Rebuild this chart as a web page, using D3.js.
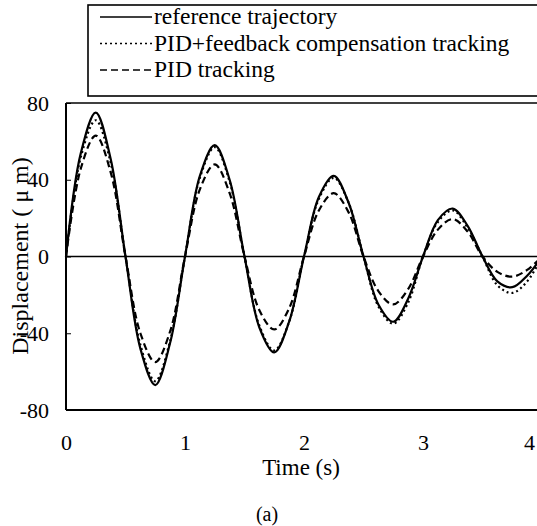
<!DOCTYPE html>
<html>
<head>
<meta charset="utf-8">
<script src="https://cdn.jsdelivr.net/npm/d3@7"></script>
<style>
  body { margin: 0; background: #fff; }
  svg { display: block; }
  text { font-family: "Liberation Serif", "Times New Roman", "DejaVu Serif", serif; fill: #000; }
</style>
</head>
<body>
<svg width="537" height="526"></svg>
<script>
// time samples (s), every 0.125 s
var times = [0, 0.125, 0.25, 0.375, 0.5, 0.625, 0.75, 0.875,
             1, 1.125, 1.25, 1.375, 1.5, 1.625, 1.75, 1.875,
             2, 2.125, 2.25, 2.375, 2.5, 2.625, 2.75, 2.875,
             3, 3.125, 3.25, 3.375, 3.5, 3.625, 3.75, 3.875, 4]

// displacement (um)
var refTraj = [0, 54, 75, 51, 0, -48, -67, -45,
               0, 42, 58, 40, 0, -37, -50, -34,
               0, 31, 42, 28, 0, -25, -34, -22,
               0, 19, 25, 16, 0, -13, -16, -10, 0]
var fbTrack = [0, 52, 71, 49, 0, -46, -65, -44,
               0, 41, 57, 39, 0, -36, -49, -34,
               0, 30, 41, 28, 0, -26, -35, -24,
               0, 18, 24, 15, 0, -15, -19, -13, 0]
var pidTrack = [0, 46, 63, 44, 0, -40, -55, -39,
                0, 35, 48, 33, 0, -28, -38, -27,
                0, 24, 33, 23, 0, -18, -25, -17,
                0, 14, 19.5, 13, 0, -8, -10.5, -7, 0]

var seriesNames = ["reference trajectory", "PID+feedback compensation tracking", "PID tracking"]
var xTicks = [0, 1, 2, 3, 4]
var yTicks = [80, 40, 0, -40, -80]

var svg = d3.select("svg")
var x = d3.scaleLinear().domain([0, 4]).range([66, 542])
var y = d3.scaleLinear().domain([-80, 80]).range([410, 103])
var serif = "Liberation Serif, Times New Roman, serif"
var fmt = function (d) { return String(d) }   // plain hyphen minus, as in the figure

var dashes = [null, "2,3", "7,4"]
var series = [refTraj, fbTrack, pidTrack]

// frame: top, left, bottom
svg.append("line").attr("x1", x(0)).attr("x2", x(4)).attr("y1", y(80)).attr("y2", y(80))
  .attr("stroke", "#000").attr("stroke-width", 1.6)
svg.append("line").attr("x1", x(0)).attr("x2", x(0)).attr("y1", y(80)).attr("y2", y(-80))
  .attr("stroke", "#000").attr("stroke-width", 2)
svg.append("line").attr("x1", x(0)).attr("x2", x(4)).attr("y1", y(-80)).attr("y2", y(-80))
  .attr("stroke", "#000").attr("stroke-width", 2)
// zero line
svg.append("line").attr("x1", x(0)).attr("x2", x(4)).attr("y1", y(0)).attr("y2", y(0))
  .attr("stroke", "#000").attr("stroke-width", 1.3)

var yAx = svg.append("g").attr("transform", "translate(" + x(0) + ",0)")
  .call(d3.axisLeft(y).tickValues(yTicks).tickSize(-5).tickPadding(17).tickFormat(fmt))
  .attr("font-family", serif).attr("font-size", 22)
yAx.select(".domain").remove()
yAx.selectAll("line").attr("stroke", "#000")

var xAx = svg.append("g").attr("transform", "translate(0," + y(-80) + ")")
  .call(d3.axisBottom(x).tickValues(xTicks).tickSize(0).tickPadding(24).tickFormat(fmt))
  .attr("font-family", serif).attr("font-size", 22)
xAx.select(".domain").remove()
xAx.selectAll("text").attr("dx", function (d) { return d === 4 ? -13 : 0 })

var line = d3.line().x(function (d, i) { return x(times[i]) }).y(function (d) { return y(d) })
  .curve(d3.curveCatmullRom.alpha(0.5))

series.forEach(function (s, k) {
  svg.append("path").datum(s).attr("d", line)
    .attr("fill", "none").attr("stroke", "#000").attr("stroke-width", 2.2)
    .attr("stroke-dasharray", dashes[k])
})

// axis titles
svg.append("text").attr("x", 301).attr("y", 475).attr("text-anchor", "middle")
  .style("font-size", "23px").text("Time (s)")
svg.append("text").attr("transform", "translate(28,256) rotate(-90)").attr("text-anchor", "middle")
  .style("font-size", "24px").text("Displacement ( \u03bc m)")
svg.append("text").attr("x", 267).attr("y", 521).attr("text-anchor", "middle")
  .style("font-size", "20px").text("(a)")

// legend
var lg = svg.append("g")
lg.append("rect").attr("x", 88).attr("y", 5).attr("width", 470).attr("height", 91)
  .attr("fill", "none").attr("stroke", "#000").attr("stroke-width", 1.6)
seriesNames.forEach(function (name, k) {
  var by = 24 + k * 26.5
  lg.append("line").attr("x1", 100).attr("x2", 152).attr("y1", by - 7).attr("y2", by - 7)
    .attr("stroke", "#000").attr("stroke-width", 1.6).attr("stroke-dasharray", dashes[k])
  lg.append("text").attr("x", 154).attr("y", by).style("font-size", "23.5px").text(name)
})
</script>
</body>
</html>
